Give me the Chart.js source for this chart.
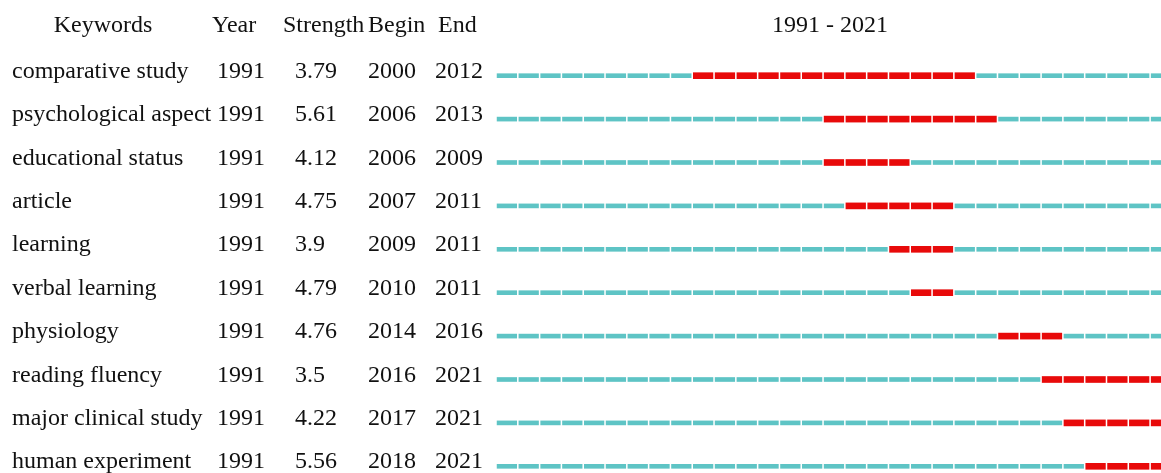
<!DOCTYPE html>
<html lang="en">
  <head>
    <meta charset="UTF-8" />
    <title>Top 10 keywords with the strongest citation bursts</title>
    <script src="https://cdn.jsdelivr.net/npm/chart.js"></script>
    <style>
      html, body { margin: 0; padding: 0; background: #fff; overflow: hidden; }
      #wrap { position: relative; width: 1161px; height: 473px; overflow: hidden; }
      #wrap canvas { position: absolute; left: 0; top: 0; }
      .t {
        position: absolute;
        font-family: "Liberation Serif", "Times New Roman", serif;
        font-size: 24px;
        line-height: 24px;
        color: #111;
        white-space: nowrap;
      }
    </style>
  </head>
  <body>
    <div id="wrap">
      <canvas id="burst"></canvas>
    </div>
    <script>
      const keywords = [
        "comparative study",
        "psychological aspect",
        "educational status",
        "article",
        "learning",
        "verbal learning",
        "physiology",
        "reading fluency",
        "major clinical study",
        "human experiment",
      ]
      const years = [1991, 1991, 1991, 1991, 1991, 1991, 1991, 1991, 1991, 1991]
      const strength = ["3.79", "5.61", "4.12", "4.75", "3.9", "4.79", "4.76", "3.5", "4.22", "5.56"]
      const begin = [2000, 2006, 2006, 2007, 2009, 2010, 2014, 2016, 2017, 2018]
      const end = [2012, 2013, 2009, 2011, 2011, 2011, 2016, 2021, 2021, 2021]
      const firstYear = 1991
      const lastYear = 2021

      const cyan = "#5ec4c5"
      const red = "#e80a0a"

      // one pair of datasets per year: normal segment and burst segment
      let datasets = []
      for (let y = firstYear; y <= lastYear; y++) {
        let base = []
        let hot = []
        for (let i = 0; i < keywords.length; i++) {
          let seg = [y + 0.05, y + 0.95]
          let inBurst = y >= begin[i] && y <= end[i]
          base.push(inBurst ? null : seg)
          hot.push(inBurst ? seg : null)
        }
        datasets.push({ data: base, backgroundColor: cyan, barThickness: 4 })
        datasets.push({ data: hot, backgroundColor: red, barThickness: 6 })
      }

      const ctx = document.getElementById("burst")
      ctx.width = 1161
      ctx.height = 490

      let grafico = new Chart(ctx, {
        type: "bar",
        data: { labels: keywords, datasets: datasets },
        options: {
          responsive: false,
          animation: false,
          indexAxis: "y",
          layout: { padding: { left: 496, top: 54, right: 0, bottom: 2 } },
          plugins: { legend: { display: false }, tooltip: { enabled: false } },
          scales: {
            x: { type: "linear", min: firstYear, max: lastYear + 0.5, display: false, grid: { display: false } },
            y: { display: false, grid: { display: false } },
          },
          datasets: { bar: { grouped: false, borderWidth: 0 } },
        },
      })

      // text columns, placed on the rows of the y scale
      const wrap = document.getElementById("wrap")
      const put = (txt, x, baseline, align) => {
        let d = document.createElement("div")
        d.className = "t"
        d.textContent = txt
        d.style.top = baseline - 20 + "px"
        d.style.left = x + "px"
        if (align === "center") d.style.transform = "translateX(-50%)"
        wrap.appendChild(d)
      }

      const headBase = 32
      put("Keywords", 103, headBase, "center")
      put("Year", 212, headBase)
      put("Strength", 283, headBase)
      put("Begin", 368, headBase)
      put("End", 438, headBase)
      put(firstYear + " - " + lastYear, 830, headBase, "center")

      const ys = grafico.scales.y
      keywords.forEach((k, i) => {
        let b = ys.getPixelForValue(i) + 2
        put(k, 12, b)
        put(String(years[i]), 217, b)
        put(strength[i], 295, b)
        put(String(begin[i]), 368, b)
        put(String(end[i]), 435, b)
      })
    </script>
  </body>
</html>
